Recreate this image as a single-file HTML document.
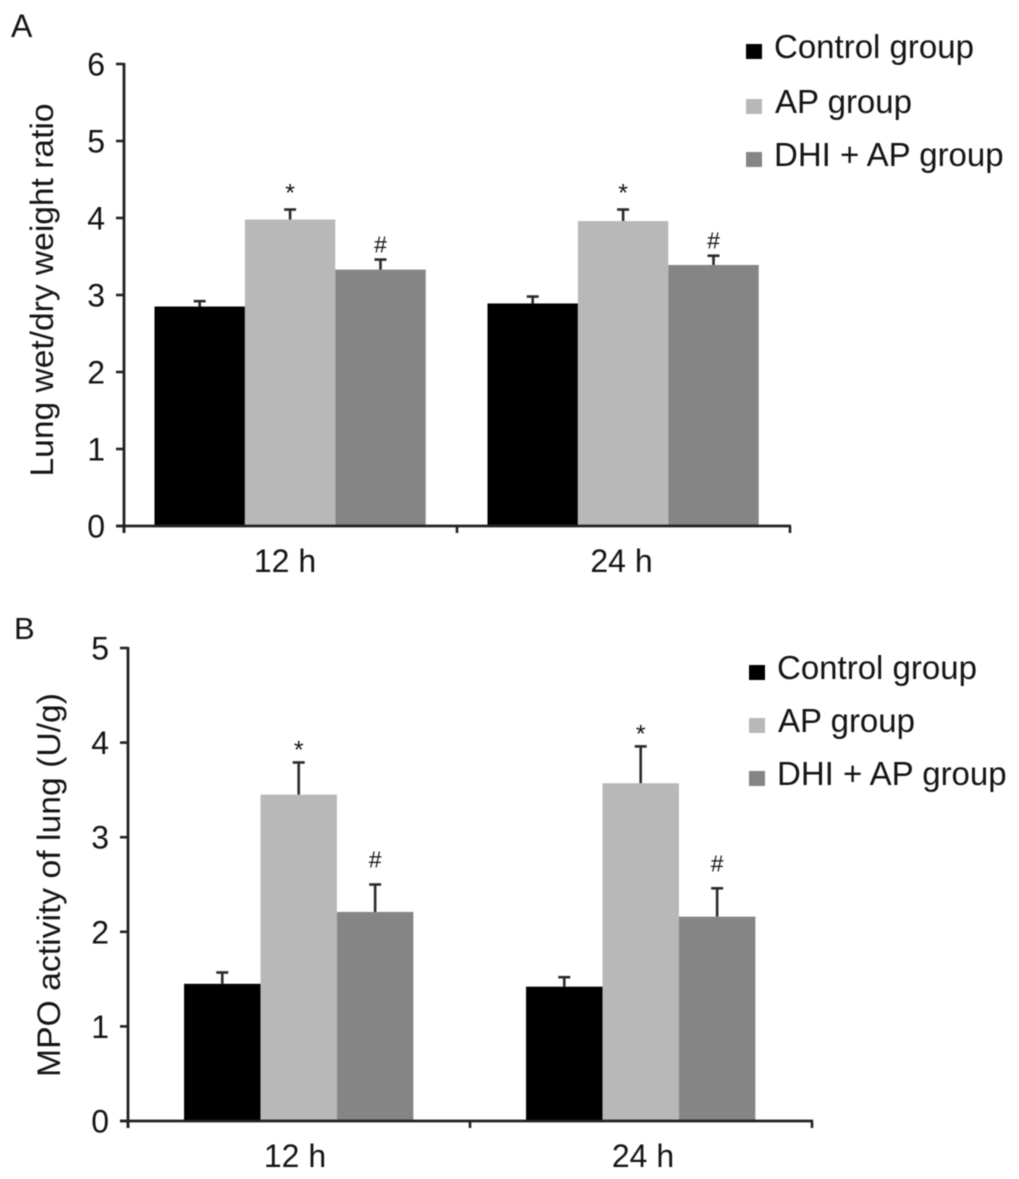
<!DOCTYPE html>
<html lang="en">
<head>
<meta charset="utf-8">
<title>Lung wet/dry weight ratio and MPO activity</title>
<style>
html,body{margin:0;padding:0;background:#fff;}
body{width:1019px;height:1179px;overflow:hidden;}
svg{display:block;filter:blur(0.55px);}
text{font-family:"Liberation Sans",Arial,sans-serif;fill:#141414;}
</style>
</head>
<body>
<svg id="figure" xmlns="http://www.w3.org/2000/svg" width="1019" height="1179" viewBox="0 0 1019 1179">
  <text x="11" y="37" font-size="32">A</text>
  <text x="14" y="639" font-size="31">B</text>
  <g id="chartA"></g>
  <g id="chartB"></g>
</svg>
<script>
const seriesNames = ["Control group", "AP group", "DHI + AP group"];
const seriesColors = ["#000000", "#b8b8b8", "#858585"];
const categories = ["12 h", "24 h"];

const ticksA = [0, 1, 2, 3, 4, 5, 6];
const controlA = [2.85, 2.89];
const apA = [3.98, 3.96];
const dhiA = [3.33, 3.39];
const controlErrA = [0.07, 0.09];
const apErrA = [0.13, 0.15];
const dhiErrA = [0.13, 0.12];
const marksA = ["", "*", "#"];

const ticksB = [0, 1, 2, 3, 4, 5];
const controlB = [1.45, 1.42];
const apB = [3.45, 3.57];
const dhiB = [2.21, 2.16];
const controlErrB = [0.12, 0.10];
const apErrB = [0.34, 0.39];
const dhiErrB = [0.29, 0.30];
const marksB = ["", "*", "#"];

const SVG_NS = "http://www.w3.org/2000/svg";

function make(parent, tag, attrs, content) {
  const el = document.createElementNS(SVG_NS, tag);
  for (const k in attrs) el.setAttribute(k, attrs[k]);
  if (content !== undefined) el.textContent = content;
  parent.appendChild(el);
  return el;
}

function drawChart(root, cfg) {
  const yScale = v => cfg.y0 - (v - cfg.ticks[0]) * (cfg.y0 - cfg.yTop) / (cfg.ticks[cfg.ticks.length - 1] - cfg.ticks[0]);
  const groupW = (cfg.xEnd - cfg.x0) / cfg.categories.length;
  const barW = groupW * cfg.barFrac;
  const groupX = i => cfg.x0 + groupW * i;
  const barX = (i, s) => groupX(i) + (groupW - barW * cfg.values.length) / 2 + barW * s + cfg.barShift;

  cfg.values.forEach((vals, s) => {
    vals.forEach((v, i) => {
      const x = barX(i, s);
      const top = yScale(v);
      const errTop = yScale(v + cfg.errors[s][i]);
      const cx = x + barW / 2;

      const errLine = make(root, "line", {x1: cx, x2: cx, y1: top, y2: errTop, stroke: "#2a2a2a", "stroke-width": 2.6});
      
      

      const errCap = make(root, "line", {x1: cx - 6, x2: cx + 6, y1: errTop, y2: errTop, stroke: "#2a2a2a", "stroke-width": 2.6});
      
      

      const bar = make(root, "rect", {x: x, y: top, width: barW, height: cfg.y0 - top, fill: cfg.colors[s]});
      
      

      if (cfg.marks[s]) {
        const isStar = cfg.marks[s] === "*";
        const mark = make(root, "text", {x: cx, y: errTop - (isStar ? cfg.starGap : cfg.hashGap), "font-size": isStar ? 25 : 23, "text-anchor": "middle"}, cfg.marks[s]);
        
        
      }
    });
  });

  const yAxis = make(root, "line", {x1: cfg.x0, x2: cfg.x0, y1: cfg.yTop - 1, y2: cfg.y0 + 7, stroke: "#222", "stroke-width": 2.8});
  
  

  const xAxis = make(root, "line", {x1: cfg.x0 - 8, x2: cfg.xEnd + 1, y1: cfg.y0, y2: cfg.y0, stroke: "#222", "stroke-width": 2.8});
  
  

  cfg.ticks.forEach(t => {
    const y = yScale(t);
    const tick = make(root, "line", {x1: cfg.x0 - 8, x2: cfg.x0, y1: y, y2: y, stroke: "#222", "stroke-width": 2.6});
    
    

    const label = make(root, "text", {x: cfg.x0 - 19, y: y + 11.5, "font-size": 32, "text-anchor": "end"}, t);
    
    
  });

  for (let i = 0; i <= cfg.categories.length; i++) {
    const x = groupX(i);
    const tick = make(root, "line", {x1: x, x2: x, y1: cfg.y0, y2: cfg.y0 + 7, stroke: "#222", "stroke-width": 2.6});
    
    
  }

  cfg.categories.forEach((c, i) => {
    const label = make(root, "text", {x: groupX(i) + groupW / 2 + cfg.catShift[i], y: cfg.y0 + 46, "font-size": 32, "text-anchor": "middle"}, c);
    
    
  });

  const title = make(root, "text", {
    transform: "translate(" + cfg.titleX + " " + cfg.titleY + ") rotate(-90)",
    "font-size": 32, "text-anchor": "middle",
    textLength: cfg.titleLen, lengthAdjust: "spacingAndGlyphs"
  }, cfg.title);
  
  

  cfg.legendY.forEach((ly, s) => {
    const swatch = make(root, "rect", {x: cfg.legendX, y: ly - 13, width: 16, height: 15, fill: cfg.colors[s]});
    
    

    const entry = make(root, "text", {x: cfg.legendX + 28 + (s === 1 ? 1 : 0), y: ly + 1, "font-size": 33}, cfg.names[s]);
    
    
  });
}

drawChart(document.getElementById("chartA"), {
  x0: 124, xEnd: 790, y0: 526, yTop: 64, barFrac: 0.2715, barShift: -0.4, catShift: [-5.5, -2],
  starGap: 8, hashGap: 7,
  ticks: ticksA, categories: categories, names: seriesNames, colors: seriesColors,
  values: [controlA, apA, dhiA], errors: [controlErrA, apErrA, dhiErrA], marks: marksA,
  title: "Lung wet/dry weight ratio", titleX: 53, titleY: 290, titleLen: 373,
  legendX: 746, legendY: [57, 112, 165]
});

drawChart(document.getElementById("chartB"), {
  x0: 128, xEnd: 812, y0: 1121, yTop: 648, barFrac: 0.2235, barShift: -0.3, catShift: [-4, 2],
  starGap: 4, hashGap: 17,
  ticks: ticksB, categories: categories, names: seriesNames, colors: seriesColors,
  values: [controlB, apB, dhiB], errors: [controlErrB, apErrB, dhiErrB], marks: marksB,
  title: "MPO activity of lung (U/g)", titleX: 60, titleY: 885, titleLen: 384,
  legendX: 749, legendY: [678, 731, 784]
});
</script>
</body>
</html>
